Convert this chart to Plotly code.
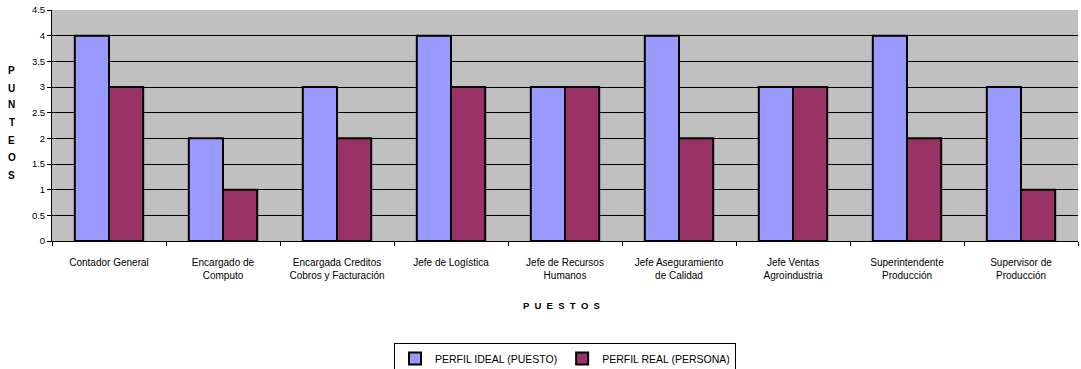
import plotly.graph_objects as go

puestos = [
    "Contador General",
    "Encargado de<br>Computo",
    "Encargada Creditos<br>Cobros y Facturación",
    "Jefe de Logística",
    "Jefe de Recursos<br>Humanos",
    "Jefe Aseguramiento<br>de Calidad",
    "Jefe Ventas<br>Agroindustria",
    "Superintendente<br>Producción",
    "Supervisor de<br>Producción",
]
perfil_ideal = [4, 2, 3, 4, 3, 4, 3, 4, 3]
perfil_real = [3, 1, 2, 3, 3, 2, 3, 2, 1]

FONT = "Liberation Sans, Arial, sans-serif"
W, H = 1081, 369
M_L, M_R, M_T, M_B = 52, 3, 10, 128
PLOT_H = H - M_T - M_B


def paper_y(px):
    """Convert a pixel row (from top of the page) to paper y."""
    return (H - M_B - px) / PLOT_H


fig = go.Figure()
fig.add_trace(go.Bar(
    x=puestos, y=perfil_ideal, name="PERFIL IDEAL (PUESTO)",
    marker=dict(color="#9999FF", line=dict(color="black", width=2)),
))
fig.add_trace(go.Bar(
    x=puestos, y=perfil_real, name="PERFIL REAL (PERSONA)",
    marker=dict(color="#993366", line=dict(color="black", width=2)),
))

fig.update_layout(
    width=W, height=H,
    margin=dict(l=M_L, r=M_R, t=M_T, b=M_B, autoexpand=False),
    paper_bgcolor="white",
    plot_bgcolor="#C0C0C0",
    barmode="group",
    bargap=0.4,
    bargroupgap=0,
    font=dict(family=FONT, size=10, color="black"),
    showlegend=True,
    legend=dict(
        orientation="h", x=0.5, xanchor="center", y=paper_y(343), yanchor="top",
        bordercolor="black", borderwidth=1, bgcolor="white",
        font=dict(size=10.5, family=FONT),
        itemwidth=30, tracegroupgap=0,
    ),
)

fig.update_xaxes(
    showline=True, linecolor="black", linewidth=1,
    ticks="outside", tickson="boundaries", ticklen=4, tickcolor="black",
    tickfont=dict(size=10, family=FONT),
    ticklabelstandoff=12,
    showgrid=False,
)
fig.update_yaxes(
    range=[0, 4.5], dtick=0.5,
    showline=True, linecolor="black", linewidth=1,
    ticks="outside", ticklen=4, tickcolor="black",
    tickfont=dict(size=9.5, family=FONT),
    showgrid=True, gridcolor="black", gridwidth=1,
    zeroline=False,
)

# Vertical y-axis title, one letter per row
for letter, py in zip("PUNTEOS", [70, 88, 105, 122, 140, 157, 175]):
    fig.add_annotation(
        text=f"<b>{letter}</b>",
        xref="paper", yref="paper", x=-0.039, y=paper_y(py),
        xanchor="center", yanchor="middle",
        showarrow=False, font=dict(size=10, family=FONT),
    )

fig.add_annotation(
    text="<b>P  U  E  S  T  O  S</b>",
    xref="paper", yref="paper", x=0.4965, y=paper_y(305),
    xanchor="center", yanchor="middle",
    showarrow=False, font=dict(size=9.5, family=FONT),
)

fig.write_html("out.html")
